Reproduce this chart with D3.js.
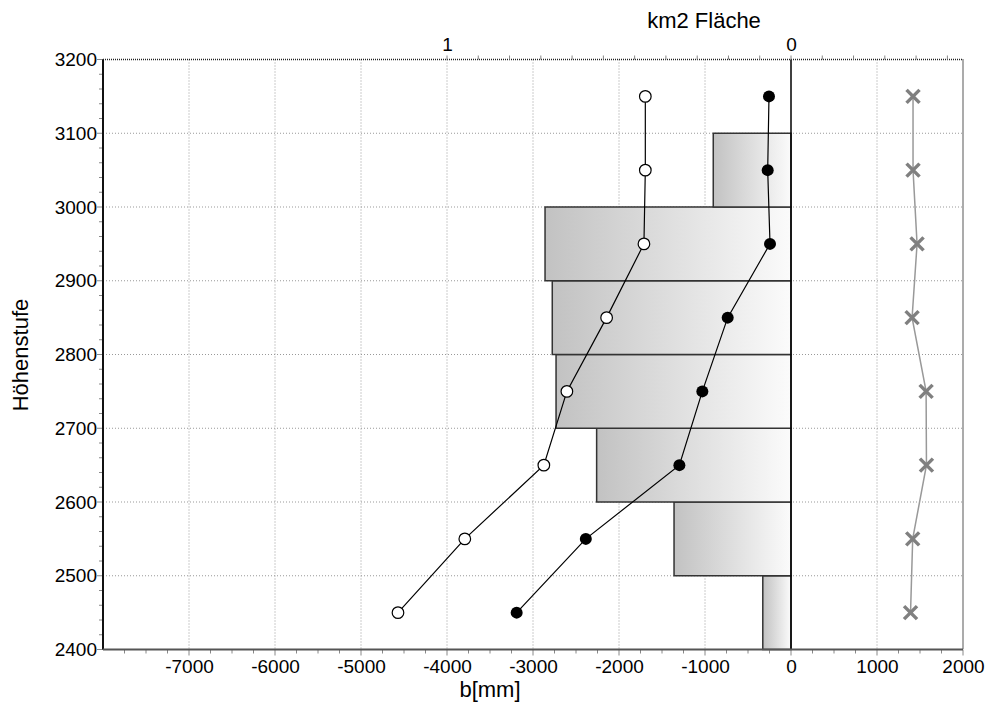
<!DOCTYPE html>
<html>
<head>
<meta charset="utf-8">
<script src="https://cdn.jsdelivr.net/npm/d3@7"></script>
<style>
  body { margin: 0; background: #fff; }
  svg { font-family: Arial, "Liberation Sans", sans-serif; }
</style>
</head>
<body>
<svg width="987" height="703"></svg>
<script>
// height bands (lower bound of each 100 m step)
var bandLow = [2400, 2500, 2600, 2700, 2800, 2900, 3000, 3100];
var bandMid = [2450, 2550, 2650, 2750, 2850, 2950, 3050, 3150];
// area per band in km2 (top axis)
var areaKm2 = [0.082, 0.34, 0.565, 0.683, 0.694, 0.715, 0.226, 0];
// b[mm] series
var bOpen   = [-4570, -3793, -2874, -2606, -2144, -1710, -1694, -1694];
var bFilled = [-3190, -2386, -1298, -1031, -736, -244, -271, -256];
var bCross  = [1390, 1415, 1575, 1571, 1408, 1466, 1419, 1419];
// tick labels
var xTicks = [-7000, -6000, -5000, -4000, -3000, -2000, -1000, 0, 1000, 2000];
var yTicks = [2400, 2500, 2600, 2700, 2800, 2900, 3000, 3100, 3200];
var areaTicks = [1, 0];

var svg = d3.select("svg");
var mLeft = 103, mRight = 963, mTop = 59.5, mBottom = 649.5;
var fmt = function(d){ return String(d); };  // plain hyphen minus

var x = d3.scaleLinear().domain([-8000, 2000]).range([mLeft, mRight]);
var y = d3.scaleLinear().domain([2400, 3200]).range([mBottom, mTop]);
var xArea = d3.scaleLinear().domain([0, 1]).range([x(0), x(-4000)]);

// grid
var grid = svg.append("g");
grid.selectAll("line.gx")
    .data(xTicks.filter(function(d){ return d > -8000 && d < 2000 && d !== 0; }))
    .enter().append("line")
    .attr("x1", function(d){ return x(d); }).attr("x2", function(d){ return x(d); })
    .attr("y1", mTop).attr("y2", mBottom)
    .attr("stroke", "#999").attr("stroke-dasharray", "1,2");
grid.selectAll("line.gy")
    .data(yTicks.filter(function(d){ return d > 2400 && d < 3200; }))
    .enter().append("line")
    .attr("x1", mLeft).attr("x2", mRight)
    .attr("y1", function(d){ return y(d); }).attr("y2", function(d){ return y(d); })
    .attr("stroke", "#999").attr("stroke-dasharray", "1,2");

// gradient for bars
var grad = svg.append("defs").append("linearGradient").attr("id", "barGrad");
grad.append("stop").attr("offset", "0%").attr("stop-color", "#c2c2c2");
grad.append("stop").attr("offset", "100%").attr("stop-color", "#fbfbfb");

// area bars
svg.selectAll("rect.bar")
    .data(bandLow.map(function(d, i){ return {lo: d, a: areaKm2[i]}; }).filter(function(d){ return d.a > 0; }))
    .enter().append("rect")
    .attr("x", function(d){ return xArea(d.a); })
    .attr("y", function(d){ return y(d.lo + 100); })
    .attr("width", function(d){ return xArea(0) - xArea(d.a); })
    .attr("height", function(d){ return y(d.lo) - y(d.lo + 100); })
    .attr("fill", "url(#barGrad)")
    .attr("stroke", "#333").attr("stroke-width", 1.5);

// zero line
svg.append("line")
    .attr("x1", x(0)).attr("x2", x(0)).attr("y1", mTop).attr("y2", mBottom)
    .attr("stroke", "#000").attr("stroke-width", 1.5);

// frame
svg.append("line").attr("x1", mLeft).attr("x2", mRight).attr("y1", mTop).attr("y2", mTop)
    .attr("stroke", "#222").attr("stroke-dasharray", "1,1").attr("stroke-width", 1.5);
svg.append("line").attr("x1", mRight).attr("x2", mRight).attr("y1", mTop).attr("y2", mBottom)
    .attr("stroke", "#222").attr("stroke-dasharray", "1,1").attr("stroke-width", 1.5);

// lines
var line = function(vals) {
    return d3.line()
        .x(function(d){ return x(d); })
        .y(function(d, i){ return y(bandMid[i]); })(vals);
};
svg.append("path").attr("d", line(bCross)).attr("fill", "none")
    .attr("stroke", "#999").attr("stroke-width", 1.5);
svg.append("path").attr("d", line(bOpen)).attr("fill", "none")
    .attr("stroke", "#000").attr("stroke-width", 1.2);
svg.append("path").attr("d", line(bFilled)).attr("fill", "none")
    .attr("stroke", "#000").attr("stroke-width", 1.2);

// markers
svg.selectAll("circle.open")
    .data(bOpen).enter().append("circle")
    .attr("cx", function(d){ return x(d); })
    .attr("cy", function(d, i){ return y(bandMid[i]); })
    .attr("r", 5.8).attr("fill", "#fff").attr("stroke", "#000").attr("stroke-width", 1.2);
svg.selectAll("circle.filled")
    .data(bFilled).enter().append("circle")
    .attr("cx", function(d){ return x(d); })
    .attr("cy", function(d, i){ return y(bandMid[i]); })
    .attr("r", 6).attr("fill", "#000");
svg.selectAll("path.cross")
    .data(bCross).enter().append("path")
    .attr("transform", function(d, i){ return "translate(" + x(d) + "," + y(bandMid[i]) + ")"; })
    .attr("d", "M-6.5,-6.5L6.5,6.5M-6.5,6.5L6.5,-6.5")
    .attr("stroke", "#808080").attr("stroke-width", 3.5);

// left axis
var yMinor = d3.range(2400, 3201, 20);
svg.selectAll("line.ym").data(yMinor).enter().append("line")
    .attr("x1", function(d){ return d % 100 === 0 ? mLeft - 6 : mLeft - 4; }).attr("x2", mLeft)
    .attr("y1", function(d){ return y(d); }).attr("y2", function(d){ return y(d); })
    .attr("stroke", "#888").attr("stroke-width", 1);
var yAxis = svg.append("g").attr("transform", "translate(" + (mLeft - 6) + ",0)")
    .call(d3.axisLeft(y).tickValues(yTicks).tickSize(0).tickPadding(0).tickFormat(fmt));
yAxis.select(".domain").remove();
yAxis.selectAll("text").attr("font-size", 19).attr("fill", "#000")
    .attr("font-family", "Arial, 'Liberation Sans', sans-serif");
svg.append("line").attr("x1", mLeft).attr("x2", mLeft).attr("y1", mTop).attr("y2", mBottom)
    .attr("stroke", "#111").attr("stroke-width", 2);

// bottom axis
var xMinor = d3.range(-7750, 2001, 250);
svg.selectAll("line.xm").data(xMinor).enter().append("line")
    .attr("x1", function(d){ return x(d); }).attr("x2", function(d){ return x(d); })
    .attr("y1", mBottom).attr("y2", function(d){ return d % 1000 === 0 ? mBottom + 6 : mBottom + 4; })
    .attr("stroke", "#888").attr("stroke-width", 1);
var xAxis = svg.append("g").attr("transform", "translate(0," + (mBottom + 6) + ")")
    .call(d3.axisBottom(x).tickValues(xTicks).tickSize(0).tickPadding(4).tickFormat(fmt));
xAxis.select(".domain").remove();
xAxis.selectAll("text").attr("font-size", 19).attr("fill", "#000")
    .attr("font-family", "Arial, 'Liberation Sans', sans-serif");
svg.append("line").attr("x1", mLeft).attr("x2", mRight).attr("y1", mBottom).attr("y2", mBottom)
    .attr("stroke", "#555").attr("stroke-width", 2);

// top axis (area)
var areaMinor = d3.range(-5, 12).map(function(k){ return k / 11; });
svg.selectAll("line.am").data(areaMinor).enter().append("line")
    .attr("x1", function(d){ return xArea(d); }).attr("x2", function(d){ return xArea(d); })
    .attr("y1", mTop).attr("y2", mTop - 4)
    .attr("stroke", "#888").attr("stroke-width", 1);
var topAxis = svg.append("g").attr("transform", "translate(0," + (mTop - 4) + ")")
    .call(d3.axisTop(xArea).tickValues(areaTicks).tickSize(0).tickPadding(5).tickFormat(fmt));
topAxis.select(".domain").remove();
topAxis.selectAll("text").attr("font-size", 19).attr("fill", "#000")
    .attr("font-family", "Arial, 'Liberation Sans', sans-serif");

// titles
svg.append("text").attr("x", 704).attr("y", 28).attr("text-anchor", "middle")
    .attr("font-size", 22).text("km2 Fläche");
svg.append("text").attr("x", 490).attr("y", 697).attr("text-anchor", "middle")
    .attr("font-size", 22).text("b[mm]");
svg.append("text").attr("transform", "translate(28,355) rotate(-90)").attr("text-anchor", "middle")
    .attr("font-size", 22).text("Höhenstufe");
</script>
</body>
</html>
